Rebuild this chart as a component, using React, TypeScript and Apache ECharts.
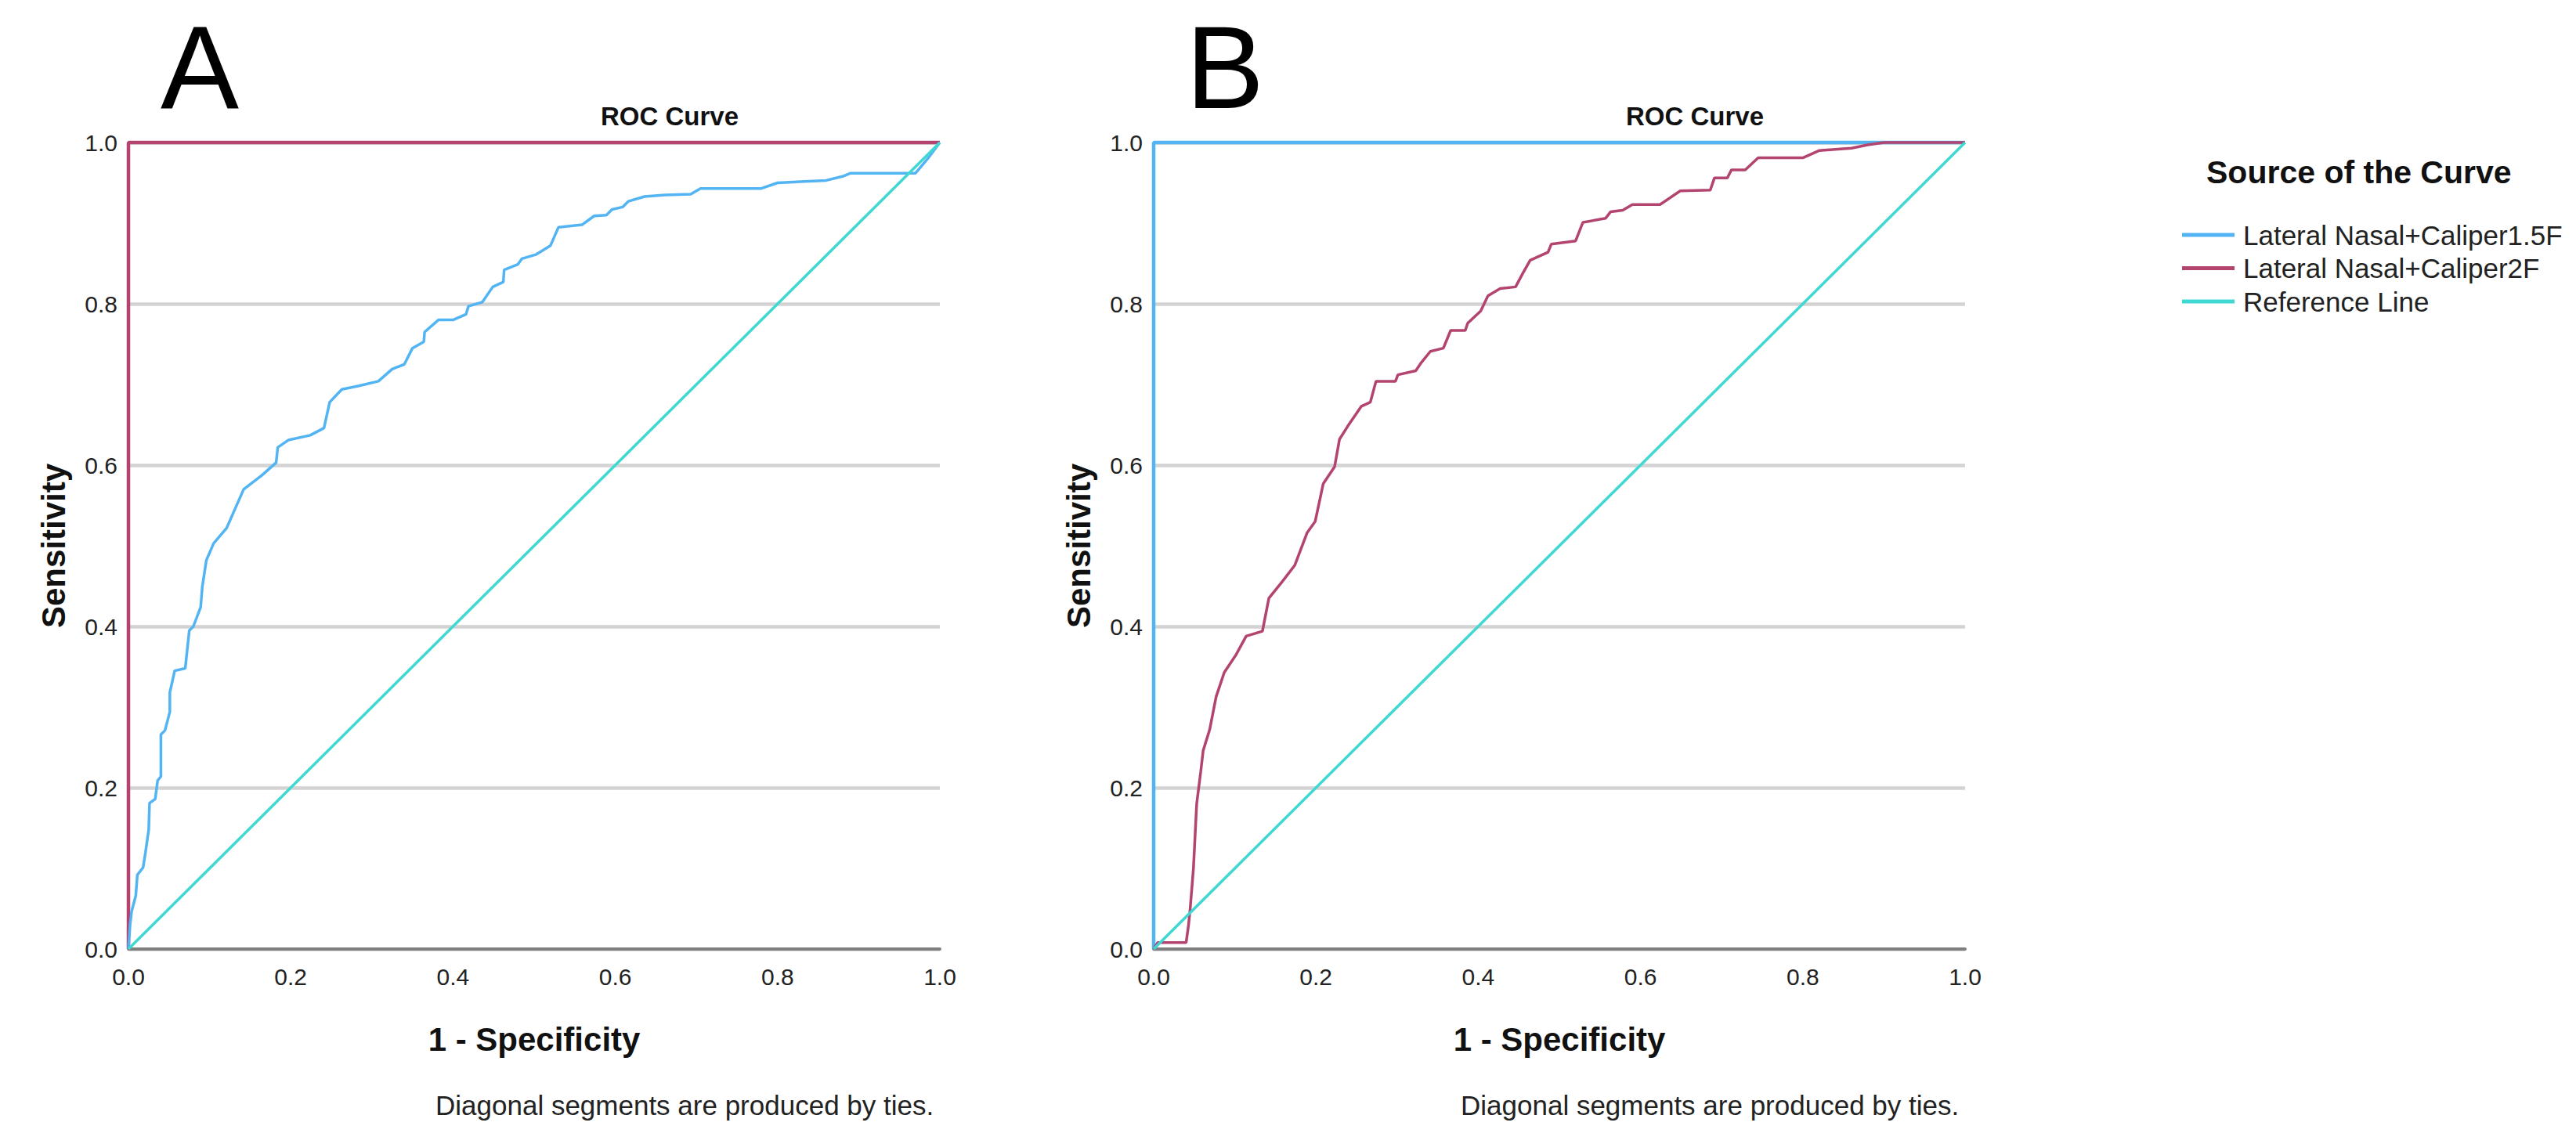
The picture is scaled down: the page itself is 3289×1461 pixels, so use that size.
import React, { useEffect, useRef } from "react";
import * as echarts from "echarts";

const FONT = "'Liberation Sans', Arial, Helvetica, sans-serif";

const panelLetters = ["A", "B"];
const chartTitle = "ROC Curve";
const xAxisTitle = "1 - Specificity";
const yAxisTitle = "Sensitivity";
const footnote = "Diagonal segments are produced by ties.";
const legendTitle = "Source of the Curve";
const seriesNames = ["Lateral Nasal+Caliper1.5F", "Lateral Nasal+Caliper2F", "Reference Line"];
const seriesColors = ["#52b4f2", "#b2446f", "#3fd8d2"];
const tickInterval = 0.2;

// degenerate curve drawn along the left and top borders
const perfectCurve: number[][] = [[0, 0], [0, 1], [1, 1]];
const referenceLine: number[][] = [[0, 0], [1, 1]];

// Panel A: Lateral Nasal+Caliper1.5F  [1 - specificity, sensitivity]
const curveA15F: number[][] = [
  [0, 0], [0.002, 0.03], [0.004, 0.047], [0.009, 0.066], [0.011, 0.092], [0.018, 0.101],
  [0.021, 0.12], [0.025, 0.148], [0.026, 0.181], [0.033, 0.186], [0.036, 0.209], [0.04, 0.214],
  [0.04, 0.266], [0.045, 0.271], [0.051, 0.294], [0.051, 0.318], [0.057, 0.345], [0.07, 0.348],
  [0.075, 0.395], [0.08, 0.4], [0.089, 0.424], [0.091, 0.449], [0.096, 0.482], [0.102, 0.496],
  [0.105, 0.503], [0.121, 0.522], [0.142, 0.57], [0.164, 0.587], [0.182, 0.603], [0.184, 0.622],
  [0.197, 0.631], [0.224, 0.637], [0.241, 0.646], [0.248, 0.678], [0.263, 0.694], [0.283, 0.698],
  [0.308, 0.704], [0.325, 0.719], [0.34, 0.725], [0.35, 0.745], [0.364, 0.753], [0.365, 0.765],
  [0.382, 0.78], [0.4, 0.78], [0.416, 0.787], [0.419, 0.797], [0.436, 0.802], [0.449, 0.821],
  [0.462, 0.827], [0.463, 0.842], [0.48, 0.849], [0.485, 0.856], [0.502, 0.861], [0.52, 0.872],
  [0.53, 0.895], [0.559, 0.898], [0.574, 0.909], [0.589, 0.91], [0.596, 0.917], [0.609, 0.92],
  [0.616, 0.927], [0.636, 0.933], [0.661, 0.935], [0.693, 0.936], [0.705, 0.943], [0.78, 0.943],
  [0.8, 0.95], [0.86, 0.953], [0.88, 0.958], [0.89, 0.962], [0.97, 0.962], [0.985, 0.98], [1, 1],
];

// Panel B: Lateral Nasal+Caliper2F
const curveB2F: number[][] = [
  [0, 0], [0.005, 0.008], [0.04, 0.008], [0.043, 0.03], [0.045, 0.05], [0.049, 0.1], [0.053, 0.18],
  [0.058, 0.22], [0.061, 0.246], [0.069, 0.272], [0.077, 0.313], [0.087, 0.343], [0.101, 0.364],
  [0.114, 0.388], [0.134, 0.394], [0.142, 0.435], [0.158, 0.455], [0.174, 0.476], [0.189, 0.516],
  [0.199, 0.53], [0.209, 0.577], [0.223, 0.598], [0.229, 0.632], [0.239, 0.648], [0.256, 0.673],
  [0.267, 0.678], [0.274, 0.704], [0.298, 0.704], [0.301, 0.712], [0.323, 0.717], [0.329, 0.726],
  [0.341, 0.741], [0.357, 0.745], [0.366, 0.767], [0.384, 0.767], [0.387, 0.776], [0.403, 0.791],
  [0.412, 0.81], [0.427, 0.819], [0.446, 0.821], [0.455, 0.838], [0.464, 0.854], [0.486, 0.864],
  [0.49, 0.874], [0.52, 0.878], [0.529, 0.901], [0.557, 0.906], [0.563, 0.914], [0.578, 0.916],
  [0.59, 0.923], [0.624, 0.923], [0.649, 0.94], [0.686, 0.941], [0.691, 0.956], [0.707, 0.956],
  [0.712, 0.966], [0.729, 0.966], [0.745, 0.981], [0.8, 0.981], [0.82, 0.99], [0.86, 0.993],
  [0.88, 0.997], [0.9, 1], [1, 1],
];

const GRID_TOP = 182;
const GRID_W = 1036;
const GRID_H = 1030;
const GRID_LEFTS = [164, 1473];

function makeAxes(i: number) {
  const x = {
    type: "value", gridIndex: i, min: 0, max: 1, interval: tickInterval,
    axisLine: { show: true, onZero: false, lineStyle: { color: "#7f7f7f", width: 4 } },
    axisTick: { show: false },
    splitLine: { show: false },
    axisLabel: { fontSize: 30, color: "#222", margin: 20, fontFamily: FONT, formatter: (v: number) => v.toFixed(1) },
  };
  const y = {
    type: "value", gridIndex: i, min: 0, max: 1, interval: tickInterval,
    axisLine: { show: false },
    axisTick: { show: false },
    splitLine: { show: true, lineStyle: { color: "#d3d3d3", width: 4.5 } },
    axisLabel: { fontSize: 30, color: "#222", margin: 14, fontFamily: FONT, formatter: (v: number) => v.toFixed(1) },
  };
  return { x, y };
}

function lineSeries(name: string, color: string, data: number[][], idx: number, z: number, width: number) {
  return {
    type: "line", name, data, xAxisIndex: idx, yAxisIndex: idx,
    showSymbol: false, symbol: "none", clip: false, z,
    lineStyle: { color, width }, itemStyle: { color },
  };
}

export default function App() {
  const ref = useRef<HTMLDivElement>(null);
  useEffect(() => {
    if (!ref.current) return;
    const chart = echarts.init(ref.current, null, { renderer: "svg" });
    const a0 = makeAxes(0);
    const a1 = makeAxes(1);

    const graphics: any[] = [];
    GRID_LEFTS.forEach((left, i) => {
      graphics.push({
        type: "text", x: left + 91, y: 86,
        style: { text: panelLetters[i], font: `150px ${FONT}`, fill: "#000", textAlign: "center", textVerticalAlign: "middle" },
      });
      graphics.push({
        type: "text", x: left + 691, y: 148,
        style: { text: chartTitle, font: `bold 33px ${FONT}`, fill: "#111", textAlign: "center", textVerticalAlign: "middle" },
      });
      graphics.push({
        type: "text", x: left - 96, y: GRID_TOP + GRID_H / 2, rotation: Math.PI / 2,
        style: { text: yAxisTitle, font: `bold 42px ${FONT}`, fill: "#111", textAlign: "center", textVerticalAlign: "middle" },
      });
      graphics.push({
        type: "text", x: left + GRID_W / 2, y: 1327,
        style: { text: xAxisTitle, font: `bold 42px ${FONT}`, fill: "#111", textAlign: "center", textVerticalAlign: "middle" },
      });
      graphics.push({
        type: "text", x: left + 392, y: 1411,
        style: { text: footnote, font: `35px ${FONT}`, fill: "#222", textAlign: "left", textVerticalAlign: "middle" },
      });
    });
    graphics.push({
      type: "text", x: 2817, y: 220,
      style: { text: legendTitle, font: `bold 41px ${FONT}`, fill: "#111", textAlign: "left", textVerticalAlign: "middle" },
    });

    chart.setOption({
      animation: false,
      backgroundColor: "#ffffff",
      grid: GRID_LEFTS.map((left) => ({ left, top: GRID_TOP, width: GRID_W, height: GRID_H, containLabel: false })),
      xAxis: [a0.x, a1.x],
      yAxis: [a0.y, a1.y],
      legend: {
        orient: "vertical", left: 2781, top: 274, itemGap: 0.5,
        itemWidth: 67, itemHeight: 5, icon: "rect",
        data: seriesNames,
        textStyle: { fontSize: 35, color: "#222", fontFamily: FONT, lineHeight: 42, padding: [0, 0, 0, 6] },
      },
      graphic: graphics,
      series: [
        lineSeries(seriesNames[1], seriesColors[1], perfectCurve, 0, 2, 4.5),
        lineSeries(seriesNames[0], seriesColors[0], curveA15F, 0, 3, 3.5),
        lineSeries(seriesNames[2], seriesColors[2], referenceLine, 0, 4, 3.5),
        lineSeries(seriesNames[0], seriesColors[0], perfectCurve, 1, 2, 4.5),
        lineSeries(seriesNames[1], seriesColors[1], curveB2F, 1, 3, 3.5),
        lineSeries(seriesNames[2], seriesColors[2], referenceLine, 1, 4, 3.5),
      ],
    });
    return () => chart.dispose();
  }, []);
  return (
    <div
      ref={ref}
      style={{ position: "absolute", left: 0, top: 0, width: 3289, height: 1461, background: "#fff" }}
    />
  );
}
